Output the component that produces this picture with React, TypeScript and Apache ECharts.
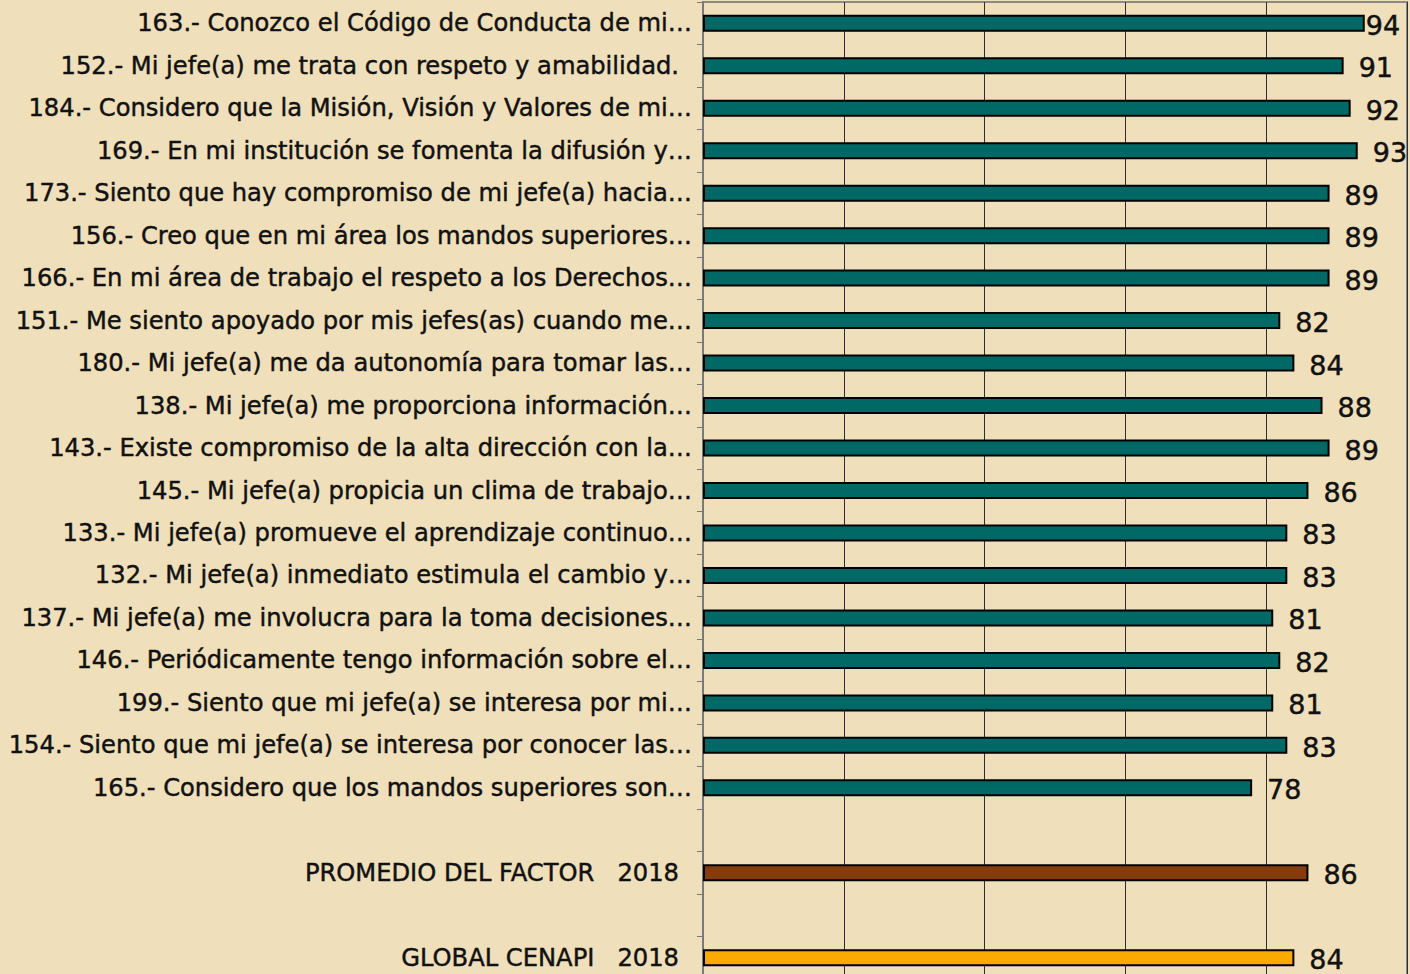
import React, { useEffect, useRef } from "react";
import * as echarts from "echarts";

const itemLabels: string[] = [
  "163.- Conozco el Código de Conducta de mi…",
  "152.- Mi jefe(a) me trata con respeto y amabilidad.",
  "184.- Considero que la Misión, Visión y Valores de mi…",
  "169.- En mi institución se fomenta la difusión y…",
  "173.- Siento que hay compromiso de mi jefe(a) hacia…",
  "156.- Creo que en mi área los mandos superiores…",
  "166.- En mi área de trabajo el respeto a los Derechos…",
  "151.- Me siento apoyado por mis jefes(as) cuando me…",
  "180.- Mi jefe(a) me da autonomía para tomar las…",
  "138.- Mi jefe(a) me proporciona información…",
  "143.- Existe compromiso de la alta dirección con la…",
  "145.- Mi jefe(a) propicia un clima de trabajo…",
  "133.- Mi jefe(a) promueve el aprendizaje continuo…",
  "132.- Mi jefe(a) inmediato estimula el cambio y…",
  "137.- Mi jefe(a) me involucra para la toma decisiones…",
  "146.- Periódicamente tengo información sobre el…",
  "199.- Siento que mi jefe(a) se interesa por mi…",
  "154.- Siento que mi jefe(a) se interesa por conocer las…",
  "165.- Considero que los mandos superiores son…",
];
const itemValues: number[] = [94, 91, 92, 93, 89, 89, 89, 82, 84, 88, 89, 86, 83, 83, 81, 82, 81, 83, 78];

const promedioLabel = "PROMEDIO DEL FACTOR\u00a0\u00a0\u00a02018";
const promedioValue = 86;
const globalLabel = "GLOBAL CENAPI\u00a0\u00a0\u00a02018";
const globalValue = 84;

const xTicks: number[] = [0, 20, 40, 60, 80, 100];

const TEAL = "#006966";
const BROWN = "#843C0C";
const ORANGE = "#FAAA00";
const FONT = "DejaVu Sans";
const INK = "#111";

export default function App() {
  const ref = useRef<HTMLDivElement>(null);
  useEffect(() => {
    if (!ref.current) return;
    const chart = echarts.init(ref.current, null, { renderer: "svg" });

    const categories = [...itemLabels, "", promedioLabel, "", globalLabel];
    const mk = (v: number, color: string) => ({
      value: v,
      itemStyle: { color },
      label: { distance: v >= 94 ? 1 : 15 },
    });
    const data: any[] = [
      ...itemValues.map((v) => mk(v, TEAL)),
      { value: null },
      mk(promedioValue, BROWN),
      { value: null },
      mk(globalValue, ORANGE),
    ];

    const txt = {
      fontFamily: FONT,
      fontSize: 24.2,
      color: INK,
      textBorderColor: INK,
      textBorderWidth: 0.45,
    };

    chart.setOption({
      animation: false,
      backgroundColor: "#EFDFBA",
      grid: {
        left: 703,
        top: 2,
        width: 704,
        height: 977,
        outerBoundsMode: "none",
        containLabel: false,
        show: true,
        borderColor: "#8a8a8a",
        borderWidth: 2,
        backgroundColor: "transparent",
      },
      xAxis: {
        type: "value",
        min: xTicks[0],
        max: xTicks[xTicks.length - 1],
        interval: 20,
        axisLabel: { show: false },
        axisLine: { show: false },
        axisTick: { show: false },
        splitLine: { show: true, lineStyle: { color: "#2e2e2e", width: 1 } },
      },
      yAxis: {
        type: "category",
        inverse: true,
        data: categories,
        axisLine: { show: true, lineStyle: { color: "#7a7a7a", width: 2 } },
        axisTick: { show: true, length: 6, lineStyle: { color: "#7a7a7a", width: 1 } },
        axisLabel: {
          margin: 11,
          ...txt,
          formatter: (s: string) => (s.endsWith("…") || s === "" ? s : `{p|${s}}`),
          rich: {
            p: { ...txt, padding: [0, 13, 0, 0] },
          },
        },
      },
      series: [
        {
          type: "bar",
          data,
          barWidth: 17,
          itemStyle: { borderColor: "#000", borderWidth: 2 },
          label: {
            show: true,
            position: "right",
            fontFamily: FONT,
            fontSize: 27,
            color: INK,
            textBorderColor: INK,
            textBorderWidth: 0.45,
            offset: [0, 2],
          },
        },
      ],
    });
    return () => chart.dispose();
  }, []);
  return (
    <div style={{ position: "absolute", left: 0, top: 0, width: 1410, height: 974, overflow: "hidden" }}>
      <div ref={ref} style={{ width: 1410, height: 982 }} />
    </div>
  );
}
